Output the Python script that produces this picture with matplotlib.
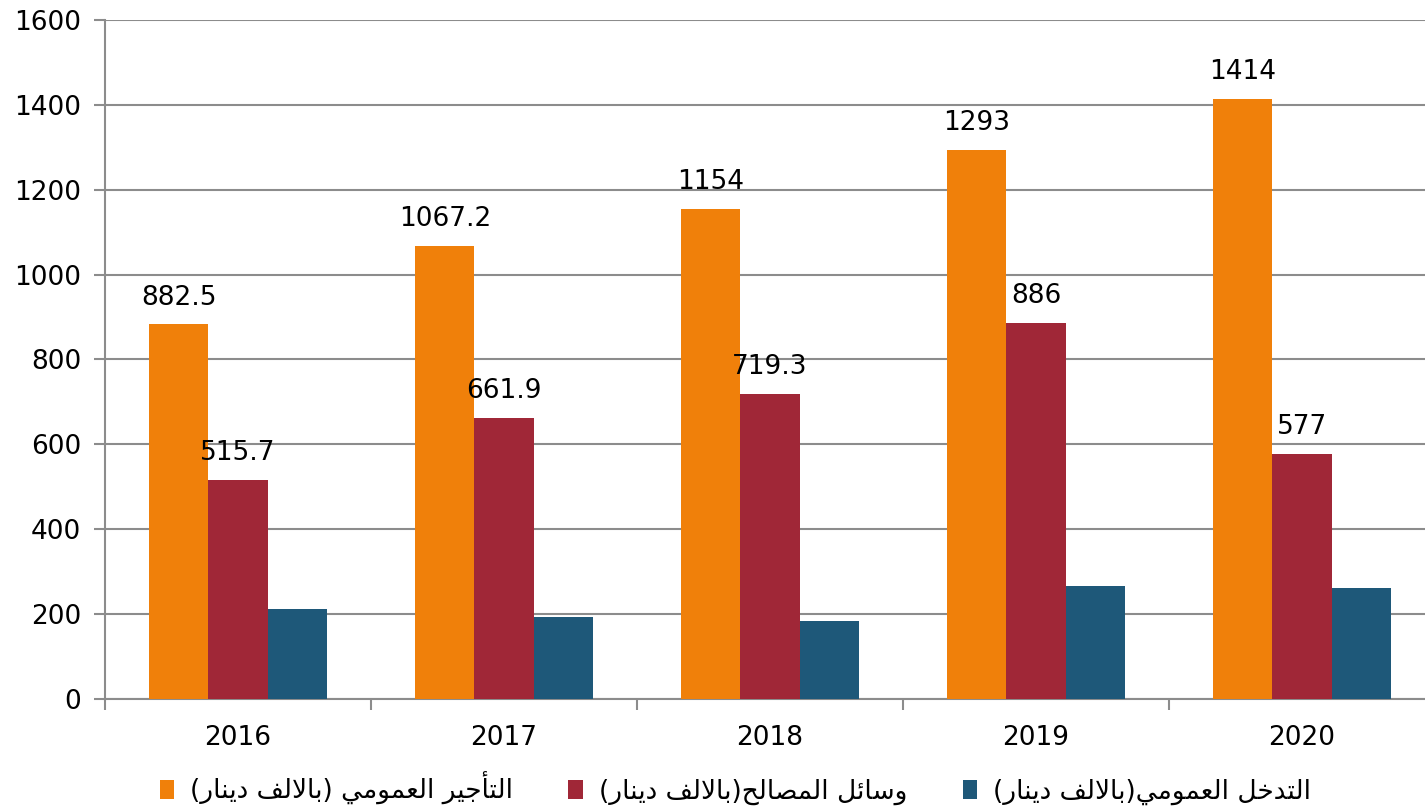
import matplotlib
matplotlib.use('Agg')
import matplotlib.pyplot as plt
import numpy as np
from matplotlib.patches import Patch

years = ['2016', '2017', '2018', '2019', '2020']
wages = [882.5, 1067.2, 1154, 1293, 1414]
services = [515.7, 661.9, 719.3, 886, 577]
intervention = [211, 194, 184, 267, 262]

series_names = ['التأجير العمومي (بالالف دينار)',
                'وسائل المصالح(بالالف دينار)',
                'التدخل العمومي(بالالف دينار)']
colors = ['#F0800A', '#A02737', '#1E5879']

# --- minimal arabic shaping (matplotlib has no bidi/shaping) ---
FORMS = {
    'ا': ('\ufe8d', '\ufe8e'), 'أ': ('\ufe83', '\ufe84'),
    'د': ('\ufea9', '\ufeaa'), 'ر': ('\ufead', '\ufeae'),
    'و': ('\ufeed', '\ufeee'),
    'ب': ('\ufe8f', '\ufe90', '\ufe91', '\ufe92'),
    'ت': ('\ufe95', '\ufe96', '\ufe97', '\ufe98'),
    'ج': ('\ufe9d', '\ufe9e', '\ufe9f', '\ufea0'),
    'ح': ('\ufea1', '\ufea2', '\ufea3', '\ufea4'),
    'خ': ('\ufea5', '\ufea6', '\ufea7', '\ufea8'),
    'س': ('\ufeb1', '\ufeb2', '\ufeb3', '\ufeb4'),
    'ص': ('\ufeb9', '\ufeba', '\ufebb', '\ufebc'),
    'ع': ('\ufec9', '\ufeca', '\ufecb', '\ufecc'),
    'ف': ('\ufed1', '\ufed2', '\ufed3', '\ufed4'),
    'ل': ('\ufedd', '\ufede', '\ufedf', '\ufee0'),
    'م': ('\ufee1', '\ufee2', '\ufee3', '\ufee4'),
    'ن': ('\ufee5', '\ufee6', '\ufee7', '\ufee8'),
    'ي': ('\ufef1', '\ufef2', '\ufef3', '\ufef4'),
    'ئ': ('\ufe89', '\ufe8a', '\ufe8b', '\ufe8c'),
}
LAM_ALEF = {'ا': ('\ufefb', '\ufefc'), 'أ': ('\ufef7', '\ufef8')}
MIRROR = {'(': ')', ')': '('}


def dual(c):
    return c in FORMS and len(FORMS[c]) == 4


def shape_ar(text):
    out = []
    i = 0
    while i < len(text):
        c = text[i]
        if c not in FORMS:
            out.append(c)
            i += 1
            continue
        link_prev = i > 0 and dual(text[i - 1])
        if c == 'ل' and i + 1 < len(text) and text[i + 1] in LAM_ALEF:
            iso, fin = LAM_ALEF[text[i + 1]]
            out.append(fin if link_prev else iso)
            i += 2
            continue
        nxt = text[i + 1] if i + 1 < len(text) else ''
        link_next = dual(c) and nxt in FORMS
        f = FORMS[c]
        if len(f) == 2:
            out.append(f[1] if link_prev else f[0])
        else:
            out.append(f[{(False, False): 0, (True, False): 1,
                          (False, True): 2, (True, True): 3}[(link_prev, link_next)]])
        i += 1
    return ''.join(MIRROR.get(ch, ch) for ch in reversed(out))


plt.rcParams['font.family'] = ['DejaVu Sans']

fig = plt.figure(figsize=(14.25, 8.09), dpi=100)
ax = fig.add_axes([0.0737, 0.136, 1 - 0.0737, 0.9753 - 0.136])

x = np.arange(len(years))
w = 0.222
data = [wages, services, intervention]
for k, (vals, col) in enumerate(zip(data, colors)):
    bars = ax.bar(x + (k - 1) * w, vals, w, color=col, zorder=3)
    if k < 2:
        ax.bar_label(bars, labels=[f'{v:g}' for v in vals], padding=10,
                     fontsize=19, color='black')

ax.set_yticks(range(0, 1601, 200))
ax.set_xticks(x)
ax.set_xticklabels(years)
ax.set_xticks(np.arange(-0.5, 5, 1), minor=True)
ax.set_ylim(0, 1600)
ax.set_xlim(-0.5, -0.5 + 1320 / 266)

ax.grid(axis='y', color='#8c8c8c', linewidth=1.5, zorder=0)
for s in ['top', 'right']:
    ax.spines[s].set_visible(False)
for s in ['left', 'bottom']:
    ax.spines[s].set_color('#8c8c8c')
    ax.spines[s].set_linewidth(1.5)

ax.tick_params(axis='y', labelsize=19, length=8, width=1.5, color='#8c8c8c', pad=9)
ax.tick_params(axis='x', which='major', labelsize=19, length=0, pad=19)
ax.tick_params(axis='x', which='minor', length=8, width=1.5, color='#8c8c8c')

handles = [Patch(facecolor=c) for c in colors]
fig.legend(handles, [shape_ar(n) for n in series_names], loc='lower center',
           bbox_to_anchor=(0.516, -0.024), ncol=3, frameon=False, fontsize=19,
           handlelength=0.55, handleheight=0.72, handletextpad=0.6, columnspacing=2.1)

fig.savefig('out.png', dpi=100)
